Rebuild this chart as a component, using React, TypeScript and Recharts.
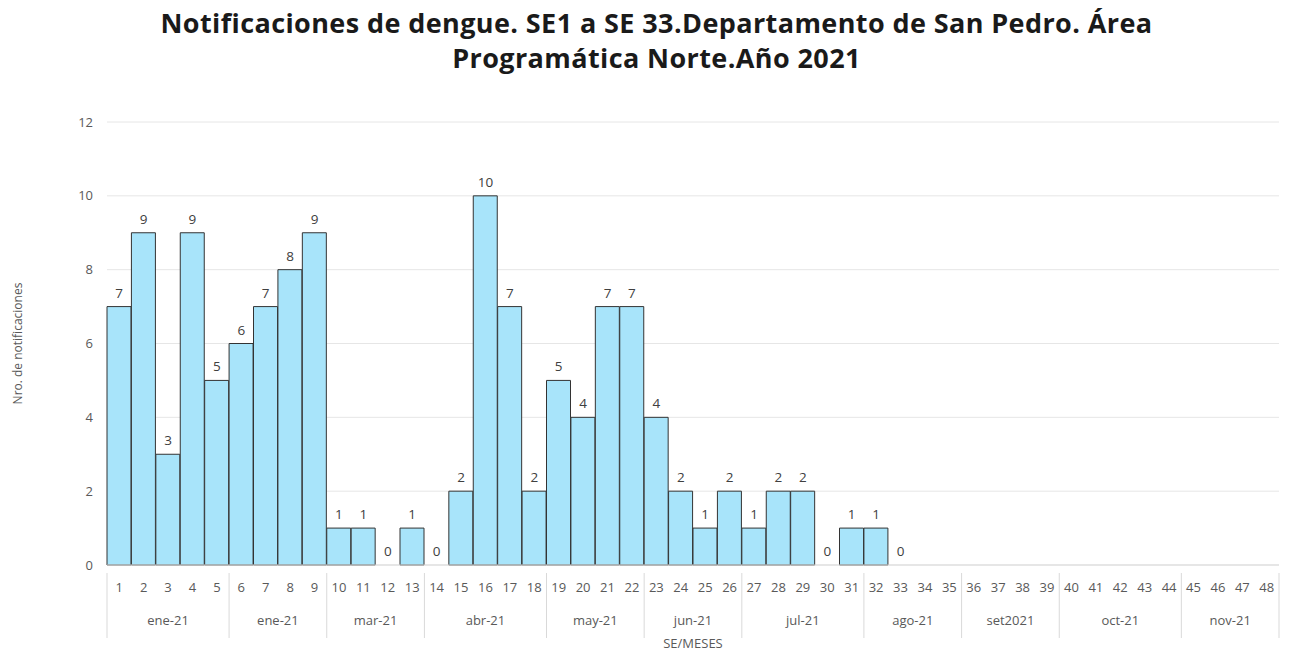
import { Bar, ComposedChart, CartesianGrid, LabelList, Line, XAxis, YAxis } from "recharts";

const weeks = Array.from({ length: 48 }, (_, i) => String(i + 1));

// SE1..SE33 notificadas; SE34..SE48 sin dato
const cases: (number | null)[] = [
  7, 9, 3, 9, 5, 6, 7, 8, 9, 1, 1, 0, 1, 0, 2, 10, 7, 2, 5, 4, 7, 7, 4, 2, 1, 2, 1, 2, 2, 0, 1, 1, 0,
  null, null, null, null, null, null, null, null, null, null, null, null, null, null, null
];

const monthLabels = [
  "ene-21", "ene-21", "mar-21", "abr-21", "may-21", "jun-21",
  "jul-21", "ago-21", "set2021", "oct-21", "nov-21"
];
const monthSpans = [5, 4, 4, 5, 4, 4, 5, 4, 4, 5, 4];

const yTicks = [0, 2, 4, 6, 8, 10, 12];

const data = weeks.map((week, i) => ({ week, cases: cases[i] }));

const WIDTH = 1293;
const HEIGHT = 653;
const MARGIN = { top: 122, right: 14, bottom: 0, left: 0 };
const Y_AXIS_WIDTH = 107;
const X_AXIS_HEIGHT = 88;
const PLOT_WIDTH = WIDTH - MARGIN.left - MARGIN.right - Y_AXIS_WIDTH;
const FONT = "'Open Sans', 'Noto Sans', sans-serif";

const groupStarts: number[] = [];
monthSpans.reduce((acc, span) => {
  groupStarts.push(acc);
  return acc + span;
}, 0);

function WeekTick(props: any) {
  const { x, y, payload } = props;
  const index: number = payload.index;
  const band = PLOT_WIDTH / weeks.length;
  const left = x - band / 2;
  const groupIdx = groupStarts.indexOf(index);
  const lineTop = y;
  const lineBottom = y + 65;

  return (
    <g>
      <text
        x={x}
        y={y + 19}
        textAnchor="middle"
        fontSize={13}
        fontFamily={FONT}
        fill="#595959"
      >
        {payload.value}
      </text>
      {groupIdx >= 0 ? (
        <>
          <line x1={left} x2={left} y1={lineTop} y2={lineBottom} stroke="#d9d9d9" />
          <text
            x={left + (monthSpans[groupIdx] * band) / 2}
            y={y + 52}
            textAnchor="middle"
            fontSize={13}
            fontFamily={FONT}
            fill="#595959"
          >
            {monthLabels[groupIdx]}
          </text>
        </>
      ) : null}
      {index === weeks.length - 1 ? (
        <line x1={left + band} x2={left + band} y1={lineTop} y2={lineBottom} stroke="#d9d9d9" />
      ) : null}
    </g>
  );
}

function ValueLabel(props: any) {
  const { x, y, value } = props;
  if (value === null || value === undefined) return null;
  return (
    <text x={x} y={y - 9} textAnchor="middle" fontSize={13.5} fontFamily={FONT} fill="#404040">
      {value}
    </text>
  );
}

export default function App() {
  return (
    <div
      style={{
        position: "absolute",
        left: 0,
        top: 0,
        width: WIDTH,
        height: HEIGHT,
        background: "#fff",
        fontFamily: FONT
      }}
    >
      <div
        style={{
          position: "absolute",
          top: 5,
          left: 20,
          width: WIDTH - 20,
          textAlign: "center",
          fontSize: 27,
          fontWeight: 700,
          letterSpacing: 0.4,
          lineHeight: "35px",
          color: "#1a1a1a"
        }}
      >
        Notificaciones de dengue. SE1 a SE 33.Departamento de San Pedro. Área
        <br />
        Programática Norte.Año 2021
      </div>
      <ComposedChart width={WIDTH} height={HEIGHT} data={data} margin={MARGIN} barCategoryGap={0}>
        <CartesianGrid stroke="#e6e6e6" vertical={false} />
        <XAxis
          dataKey="week"
          interval={0}
          height={X_AXIS_HEIGHT}
          tickLine={false}
          axisLine={{ stroke: "#d9d9d9" }}
          tick={<WeekTick />}
          label={{
            value: "SE/MESES",
            position: "insideBottom",
            offset: 5,
            fontSize: 13,
            fontFamily: FONT,
            fill: "#595959"
          }}
        />
        <YAxis
          width={Y_AXIS_WIDTH}
          domain={[0, 12]}
          ticks={yTicks}
          tickLine={false}
          axisLine={false}
          tickSize={0}
          tickMargin={14}
          tick={{ fontSize: 13, fontFamily: FONT, fill: "#595959" }}
          label={{
            value: "Nro. de notificaciones",
            angle: -90,
            position: "insideLeft",
            offset: 18,
            style: { textAnchor: "middle" },
            fontSize: 12,
            fontFamily: FONT,
            fill: "#595959"
          }}
        />
        <Bar dataKey="cases" fill="#A8E4FA" stroke="#333333" strokeWidth={1} isAnimationActive={false} />
        <Line
          dataKey="cases"
          stroke="none"
          dot={false}
          activeDot={false}
          legendType="none"
          isAnimationActive={false}
        >
          <LabelList dataKey="cases" content={<ValueLabel />} />
        </Line>
      </ComposedChart>
    </div>
  );
}
